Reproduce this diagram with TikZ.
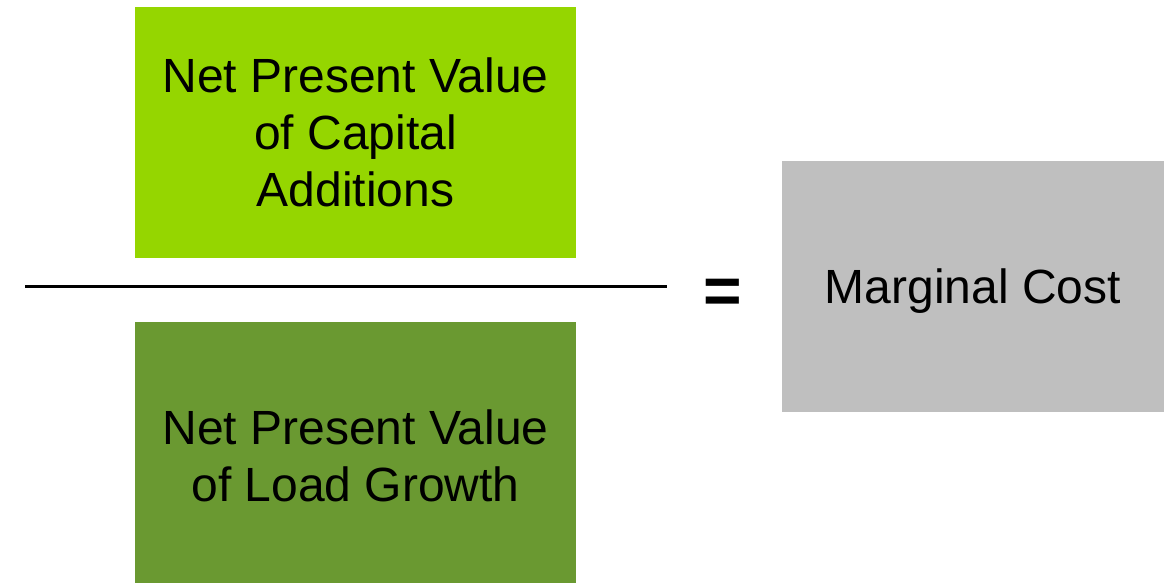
\documentclass[tikz,border=0pt]{standalone}
\usepackage{fontspec}
\setmainfont{Liberation Sans}
\definecolor{capgreen}{HTML}{95D600}
\definecolor{loadgreen}{HTML}{6A9931}
\definecolor{costgray}{HTML}{BFBFBF}
\begin{document}
\begin{tikzpicture}[x=1pt,y=-1pt,
  box/.style={rectangle, inner sep=0pt, align=center,
    font=\fontsize{48}{57}\selectfont},
  bar/.style={line width=3pt}]
\useasboundingbox[fill=white] (0,0) rectangle (1170,583);
% numerator and denominator
\node[box, fill=capgreen, minimum width=441, minimum height=250.7] (num) at (355.5,132.3)
  {Net Present Value\\of Capital\\Additions};
\node[box, fill=loadgreen, minimum width=441, minimum height=268] (den) at (355.5,456)
  {Net Present Value\\of Load Growth};
% fraction bar
\coordinate (barL) at (25,286.5);
\coordinate (barR) at (667,286.5);
\draw[bar] (barL) -- (barR);
% equals sign and result
\node[inner sep=0pt, anchor=base, font=\fontsize{66}{70}\selectfont\bfseries] (eq) at (723,313) {=};
\node[box, fill=costgray, text depth=0pt, minimum width=381.5, minimum height=251] (cost) at (973,286.5)
  {Marginal Cost};
\end{tikzpicture}
\end{document}
